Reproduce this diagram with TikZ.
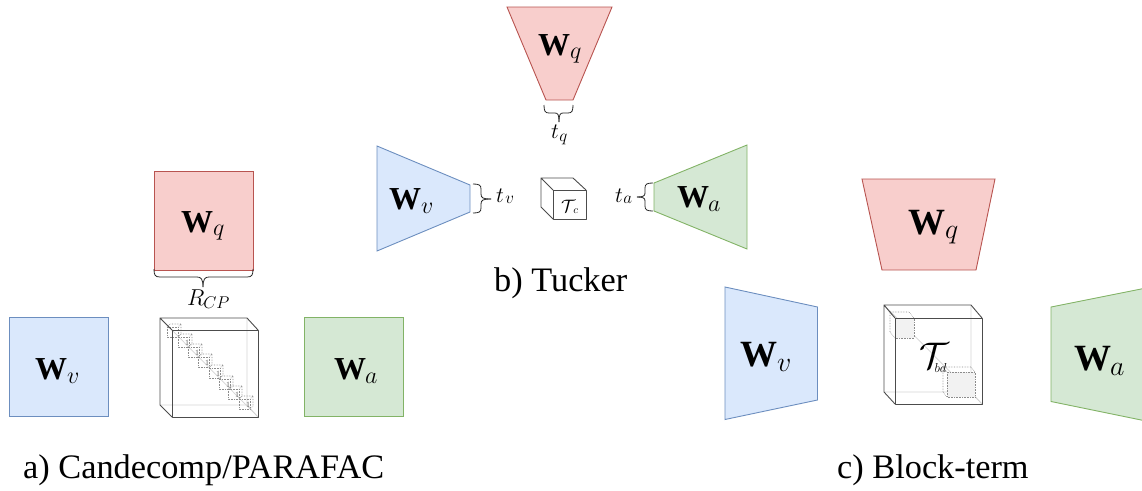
\documentclass[tikz,border=0pt]{standalone}
\usepackage{fix-cm}
\usepackage{fontspec}
\setmainfont{Liberation Serif}
\definecolor{bluef}{HTML}{DAE8FC}\definecolor{blued}{HTML}{6C8EBF}
\definecolor{redf}{HTML}{F8CECC}\definecolor{redd}{HTML}{B85450}
\definecolor{greenf}{HTML}{D5E8D4}\definecolor{greend}{HTML}{82B366}
\tikzset{
 bluebox/.style={fill=bluef,draw=blued,line width=0.9pt},
 redbox/.style={fill=redf,draw=redd,line width=0.9pt},
 greenbox/.style={fill=greenf,draw=greend,line width=0.9pt},
 cubeline/.style={draw=black!70,line width=0.9pt,line join=round},
 backline/.style={draw=black!17,line width=0.7pt},
 dotline/.style={draw=black!45,line width=0.6pt,densely dotted},
 bracestyle/.style={draw=black!85,line width=0.8pt},
 lab/.style={inner sep=0pt,outer sep=0pt,anchor=base west},
 caption/.style={inner sep=0pt,anchor=base west,font=\fontsize{34.3}{34.3}\selectfont},
}
\newcommand{\mth}[2]{{\fontsize{#1}{#1}\selectfont$#2$}}
% size of W, size of sub, gap, drop, sub letter
\newcommand{\Wlab}[5]{{\fontsize{#1}{#1}\selectfont\textbf{W}}\kern#3pt\raisebox{-#4pt}{\mth{#2}{#5}}}
\begin{document}
\begin{tikzpicture}[x=1pt,y=-1pt]
\useasboundingbox (0,0) rectangle (1142,490);
% CP
\draw[redbox] (154,171) rectangle (253,270);
\draw[bluebox] (9,317) rectangle (108,416);
\draw[greenbox] (304,317) rectangle (403,416);
\node[lab] (wq1) at (181,232) {\Wlab{32}{24}{0}{3}{q}};
\node[lab] (wv1) at (35,379) {\Wlab{32}{24}{0}{4}{v}};
\node[lab] (wa1) at (334,379) {\Wlab{32}{24}{-1}{4}{a}};
\draw[bracestyle] (154,269) .. controls (154,275) and (155,277) .. (160,277) -- (197,277) .. controls (201,277) and (203,279) .. (203,287);
\draw[bracestyle] (253,269) .. controls (253,275) and (252,277) .. (247,277) -- (209,277) .. controls (205,277) and (203,279) .. (203,287);
\node[lab] (rcp) at (187,305) {\mth{23}{R}\kern-1pt\raisebox{-3pt}{\mth{17}{CP}}};
% CP cube
\draw[backline] (160,405) -- (247,405) -- (247,318) (247,405) -- (258,417);
\draw[backline] (160,318) -- (258,417);
\foreach \cx/\cy/\o in {173/331/,184/341/1,194/351/1,204/361/1,215/372/1,225/383/1,234/393/1,245/403/1}{
 \draw[dotline] (\cx-6,\cy-4) rectangle (\cx+5,\cy+6);
 \draw[dotline] (\cx-6,\cy-4) -- (\cx-3,\cy-7) -- (\cx+8,\cy-7) -- (\cx+5,\cy-4) (\cx+8,\cy-7) -- (\cx+8,\cy+3) -- (\cx+5,\cy+6);
 \node[inner sep=0pt,text=black!60,font=\fontsize{8}{8}\selectfont] (one\cx) at (\cx+3,\cy+2) {\o};
}
\draw[cubeline] (172,330) rectangle (258,417);
\draw[cubeline] (172,330) -- (160,318) -- (247,318) -- (258,330) (160,318) -- (160,405) -- (172,417);
\node[caption] (capa) at (23,478) {a) Candecomp/PARAFAC};
% Tucker
\draw[redbox] (507,7) -- (612,7) -- (573,100) -- (546,100) -- cycle;
\draw[bluebox] (377,146) -- (470,185) -- (470,212) -- (377,251) -- cycle;
\draw[greenbox] (747,145) -- (654,183) -- (654,211) -- (747,249) -- cycle;
\node[lab] (wq2) at (538,55) {\Wlab{32}{24}{0}{3}{q}};
\node[lab] (wv2) at (389,209) {\Wlab{32}{24}{0}{4}{v}};
\node[lab] (wa2) at (677,207) {\Wlab{32}{24}{-1}{4}{a}};
% tq brace
\draw[bracestyle] (544,105) .. controls (544,111) and (545,113) .. (549,113) -- (555,113) .. controls (558,113) and (559,115) .. (559,122);
\draw[bracestyle] (573,105) .. controls (573,111) and (572,113) .. (568,113) -- (563,113) .. controls (560,113) and (559,115) .. (559,122);
% tv brace
\draw[bracestyle] (473,184) .. controls (479,184) and (481,185) .. (481,189) -- (481,194) .. controls (481,198) and (483,199) .. (491,199);
\draw[bracestyle] (473,213) .. controls (479,213) and (481,212) .. (481,208) -- (481,204) .. controls (481,200) and (483,199) .. (491,199);
% ta brace
\draw[bracestyle] (653,183) .. controls (647,183) and (645,184) .. (645,188) -- (645,193) .. controls (645,196) and (643,197) .. (637,197);
\draw[bracestyle] (653,211) .. controls (647,211) and (645,210) .. (645,206) -- (645,201) .. controls (645,198) and (643,197) .. (637,197);
\node[lab] (tq) at (551,138) {\mth{22}{t}\kern0.5pt\raisebox{-3pt}{\mth{17}{q}}};
\node[lab] (tv) at (496,202) {\mth{22}{t}\kern1.5pt\raisebox{-1pt}{\mth{17}{v}}};
\node[lab] (ta) at (615,202) {\mth{22}{t}\kern0.5pt\raisebox{-1pt}{\mth{17}{a}}};
\draw[cubeline] (553,190) rectangle (586,219);
\draw[cubeline] (553,190) -- (541,178) -- (573,178) -- (586,190) (541,178) -- (541,207) -- (553,219);
\node[lab] (tc) at (561,212) {\mth{18}{\mathcal{T}}\kern-2pt\raisebox{-1pt}{\mth{11}{c}}};
\node[caption] (capb) at (494,291) {b) Tucker};
% Block-term
\draw[redbox] (862,179) -- (995,179) -- (976,270) -- (882,270) -- cycle;
\draw[bluebox] (725,287) -- (817.5,307) -- (817.5,400) -- (725,419.5) -- cycle;
\draw[greenbox] (1146,288) -- (1051,307) -- (1051,401.5) -- (1146,421);
\node[lab] (wq3) at (908,234) {\Wlab{37}{28}{0}{4}{q}};
\node[lab] (wv3) at (740,366) {\Wlab{37}{28}{0}{5}{v}};
\node[lab] (wa3) at (1074,370) {\Wlab{37}{28}{-1}{5}{a}};
\draw[backline] (884,392) -- (971,392) -- (971,305) (971,392) -- (982,404);
\draw[backline] (884,305) -- (982,404);
\draw[dotline,fill=black!5] (895,318) rectangle (914,338);
\draw[dotline] (895,318) -- (890,312) -- (909,312) -- (914,318) (890,312) -- (890,332) -- (895,338);
\draw[dotline,fill=black!5] (947,372) rectangle (975,397);
\draw[dotline] (947,372) -- (943,367) -- (971,367) -- (975,372) (943,367) -- (943,392) -- (947,397);
\draw[cubeline] (895,318) rectangle (982,404);
\draw[cubeline] (895,318) -- (884,305) -- (971,305) -- (982,318) (884,305) -- (884,392) -- (895,404);
\node[lab] (tbd) at (919,368) {\mth{37}{\mathcal{T}}\kern-14pt\raisebox{-4pt}{\mth{13}{bd}}};
\node[caption] (capc) at (837,478) {c) Block-term};
\end{tikzpicture}
\end{document}
